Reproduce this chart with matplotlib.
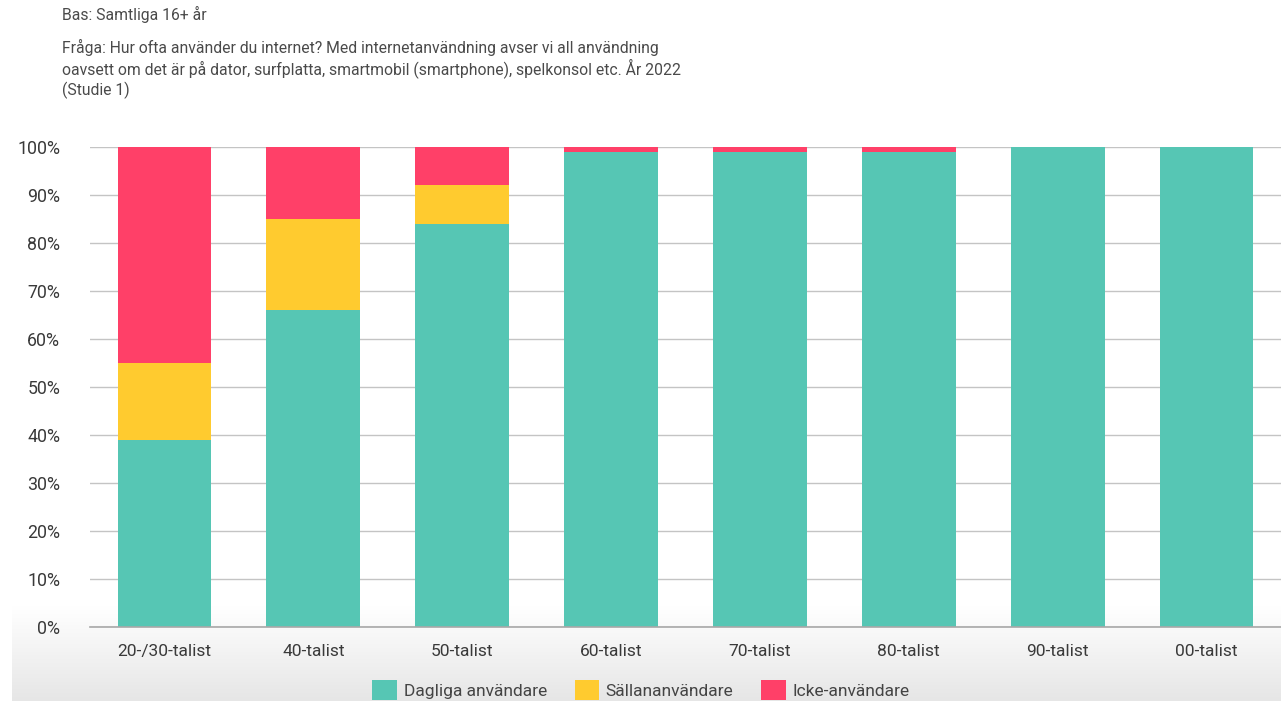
import matplotlib
matplotlib.use("Agg")
import matplotlib.pyplot as plt
import numpy as np
from matplotlib.patches import Patch

categories = ["20-/30-talist", "40-talist", "50-talist", "60-talist", "70-talist", "80-talist", "90-talist", "00-talist"]
dagliga = [39, 66, 84, 99, 99, 99, 100, 100]
sallan = [16, 19, 8, 0, 0, 0, 0, 0]
icke = [45, 15, 8, 1, 1, 1, 0, 0]
series_names = ["Dagliga användare", "Sällananvändare", "Icke-användare"]
colors = ["#56C6B4", "#FFCB2F", "#FF4068"]
yticks = [0, 10, 20, 30, 40, 50, 60, 70, 80, 90, 100]

plt.rcParams['font.family'] = ['Roboto', 'DejaVu Sans']

W, H = 1281, 701
fig = plt.figure(figsize=(W/100, H/100), dpi=100)

# bottom grey gradient background
bg = fig.add_axes([12/W, 0, 1-12/W, 95/H], zorder=-10)
grad = np.linspace(0, 1, 100).reshape(-1, 1)
bg.imshow(grad, aspect='auto', origin='lower',
          cmap=matplotlib.colors.LinearSegmentedColormap.from_list('g', ['#e6e6e6', '#ffffff']),
          extent=[0, 1, 0, 1], vmin=0, vmax=1)
bg.axis('off')

ax = fig.add_axes([90/W, 1-627/H, 1-90/W, (627-147)/H])
ax.patch.set_alpha(0)
x = np.arange(len(categories))
w = 0.63
data = [dagliga, sallan, icke]
bottom = np.zeros(len(categories))
for vals, c in zip(data, colors):
    ax.bar(x, vals, w, bottom=bottom, color=c, zorder=3, linewidth=0)
    bottom += np.array(vals)

ax.set_xlim(-0.5, len(categories)-0.5)
ax.set_ylim(0, 100)
ax.set_yticks(yticks)
ax.set_yticklabels([f"{v}%" for v in yticks], fontsize=12.8, color='#3a3a3a')
ax.set_xticks(x)
ax.set_xticklabels(categories, fontsize=12.5, color='#3a3a3a')
ax.tick_params(axis='both', length=0)
ax.tick_params(axis='y', pad=21.5)
ax.tick_params(axis='x', pad=12)
ax.grid(axis='y', color='#c4c4c4', linewidth=1, zorder=0)
for s in ['top', 'right', 'left']:
    ax.spines[s].set_visible(False)
ax.spines['bottom'].set_color('#a8a8a8')
ax.spines['bottom'].set_linewidth(1.2)
ax.spines['bottom'].set_zorder(4)

fig.text(62/W, 1-14/H, "Bas: Samtliga 16+ år", fontsize=11.3, color='#4a4a4a', va='center', ha='left')
lines = ["Fråga: Hur ofta använder du internet? Med internetanvändning avser vi all användning",
         "oavsett om det är på dator, surfplatta, smartmobil (smartphone), spelkonsol etc. År 2022",
         "(Studie 1)"]
for i, l in enumerate(lines):
    fig.text(62/W, 1-(47+21.5*i)/H, l, fontsize=11.3, color='#4a4a4a', va='center', ha='left')

handles = [Patch(facecolor=c, edgecolor='none') for c in colors]
fig.legend(handles, series_names, loc='center', bbox_to_anchor=(641/W, 1-690/H), ncol=3, frameon=False,
           fontsize=12.5, handlelength=1.4, handleheight=1.4, handletextpad=0.4, columnspacing=1.6,
           labelcolor='#444444')

fig.savefig("out.png", dpi=100)
